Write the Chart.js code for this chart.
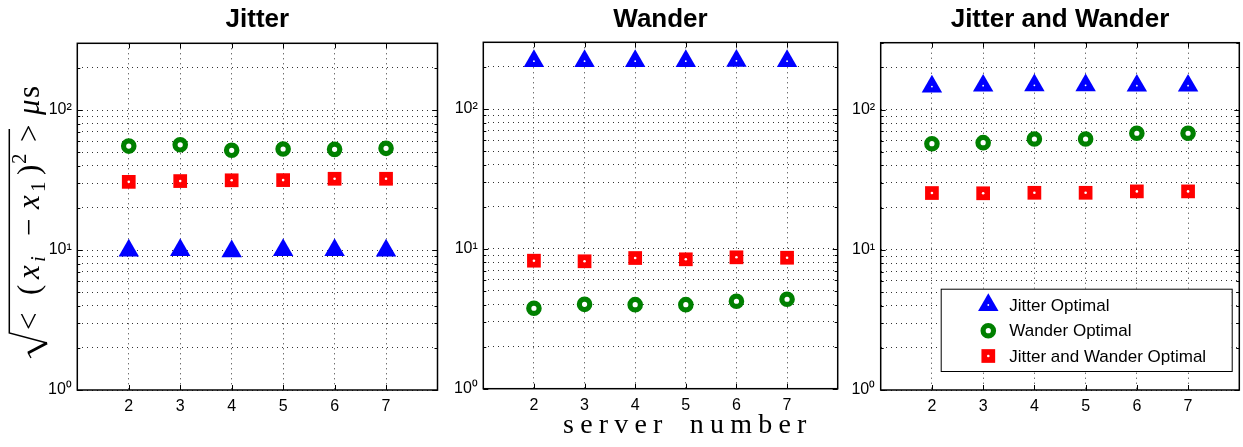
<!DOCTYPE html>
<html>
<head>
<meta charset="utf-8">
<title>Server offsets</title>
<script src="https://cdn.jsdelivr.net/npm/chart.js@4.4.1/dist/chart.umd.min.js"></script>
<style>
  html, body { margin: 0; padding: 0; background: #fff; }
  #figure { position: relative; width: 1243px; height: 447px; overflow: hidden; background: #fff; }
  #figure canvas { position: absolute; top: 0; }
</style>
</head>
<body>
<div id="figure">
  <canvas id="panelJitter" width="440" height="447" style="left:0px"></canvas>
  <canvas id="panelWander" width="400" height="447" style="left:440px"></canvas>
  <canvas id="panelBoth" width="403" height="447" style="left:840px"></canvas>
</div>
<script>
// ---- data ----
const serverNumbers = [2, 3, 4, 5, 6, 7];
const panelTitles = ['Jitter', 'Wander', 'Jitter and Wander'];
const seriesNames = ['Jitter Optimal', 'Wander Optimal', 'Jitter and Wander Optimal'];

// panel "Jitter"
const jitterJitterOptimal = [9.9, 10.0, 9.8, 10.0, 10.0, 9.9];
const jitterWanderOptimal = [55.3, 56.5, 51.6, 52.7, 52.4, 53.3];
const jitterBothOptimal   = [30.7, 31.1, 31.5, 31.6, 32.3, 32.3];
// panel "Wander"
const wanderJitterOptimal = [220, 220, 220, 220, 221, 220];
const wanderWanderOptimal = [3.76, 4.01, 3.99, 3.99, 4.22, 4.36];
const wanderBothOptimal   = [8.23, 8.15, 8.60, 8.42, 8.70, 8.64];
// panel "Jitter and Wander"
const bothJitterOptimal = [146, 148, 149, 149, 148, 148];
const bothWanderOptimal = [57.1, 58.1, 61.7, 61.7, 67.8, 67.8];
const bothBothOptimal   = [25.4, 25.3, 25.5, 25.5, 26.1, 26.1];

// axes
const xRange = [1, 8];
const yRange = [1, 300];
const xTickValues = [2, 3, 4, 5, 6, 7];
const yTickValues = [1, 2, 3, 4, 5, 6, 7, 8, 9, 10, 20, 30, 40, 50, 60, 70, 80, 90, 100, 200, 300];
const yTickLabels = { 1: '10\u2070', 10: '10\u00B9', 100: '10\u00B2' };
const xAxisTitle = 'server number';

// ---- styling ----
Chart.defaults.font.family = "'Liberation Sans', Arial, Helvetica, sans-serif";
Chart.defaults.color = '#000';

const gridColor = 'rgba(0,0,0,0.8)';
const seriesStyles = [
  { pointStyle: 'triangle', radius: 11.8, fill: '#0000ff', stroke: '#0000ff', borderWidth: 0, dot: 1.8 },
  { pointStyle: 'circle',   radius: 5.2,  fill: '#ffffff', stroke: '#008000', borderWidth: 5.2, dot: 0 },
  { pointStyle: 'rect',     radius: 9.7,  fill: '#ff0000', stroke: '#ff0000', borderWidth: 0, dot: 2.6 }
];

function makeDatasets(seriesValues, triangleDot) {
  return seriesValues.map((values, s) => {
    const st = seriesStyles[s];
    return {
      label: seriesNames[s],
      data: serverNumbers.map((x, i) => ({ x: x, y: values[i] })),
      showLine: false,
      pointStyle: st.pointStyle,
      pointRadius: st.radius,
      pointBackgroundColor: st.fill,
      pointBorderColor: st.stroke,
      pointBorderWidth: st.borderWidth,
      centerDot: (s === 0 && !triangleDot) ? 0 : st.dot,
      clip: false
    };
  });
}

// white dot in the middle of each marker
const centerDotPlugin = {
  id: 'centerDot',
  afterDatasetsDraw(chart) {
    const ctx = chart.ctx;
    ctx.save();
    ctx.fillStyle = '#ffffff';
    chart.data.datasets.forEach((ds, i) => {
      if (!ds.centerDot) return;
      chart.getDatasetMeta(i).data.forEach(pt => {
        ctx.beginPath();
        ctx.arc(pt.x, pt.y, ds.centerDot / 2, 0, Math.PI * 2);
        ctx.fill();
      });
    });
    ctx.restore();
  }
};

// axes box with inward ticks on all four sides
const axesFramePlugin = {
  id: 'axesFrame',
  afterDatasetsDraw(chart) {
    const { ctx, chartArea: a, scales } = chart;
    ctx.save();
    ctx.strokeStyle = '#000';
    ctx.lineWidth = 1;
    ctx.beginPath();
    xTickValues.forEach(v => {
      const px = Math.round(scales.x.getPixelForValue(v)) + 0.5;
      ctx.moveTo(px, a.bottom); ctx.lineTo(px, a.bottom - 5);
      ctx.moveTo(px, a.top); ctx.lineTo(px, a.top + 5);
    });
    yTickValues.forEach(v => {
      const py = Math.round(scales.y.getPixelForValue(v)) + 0.5;
      const len = yTickLabels[v] ? 5 : 3;
      ctx.moveTo(a.left, py); ctx.lineTo(a.left + len, py);
      ctx.moveTo(a.right, py); ctx.lineTo(a.right - len, py);
    });
    ctx.stroke();
    ctx.lineWidth = 1.5;
    ctx.strokeRect(a.left, a.top, a.right - a.left, a.bottom - a.top);
    ctx.restore();
  }
};

// rotated y-axis title: sqrt(<(x_i - x_1)^2>) mu s
const yTitlePlugin = {
  id: 'yTitle',
  afterDraw(chart) {
    const ctx = chart.ctx;
    const serif = "'Liberation Serif', 'Times New Roman', serif";
    ctx.save();
    ctx.translate(39, 447);
    ctx.rotate(-Math.PI / 2);
    ctx.fillStyle = '#000';
    ctx.strokeStyle = '#000';
    ctx.textBaseline = 'alphabetic';
    ctx.textAlign = 'left';
    const big = '31px ' + serif, bigIt = 'italic 31px ' + serif;
    const small = '21px ' + serif, smallIt = 'italic 21px ' + serif;
    const pieces = [
      { t: '<', f: big, u: 117, v: 0 },
      { t: '(', f: big, u: 152, v: 0 },
      { t: 'x', f: bigIt, u: 168, v: 0 },
      { t: 'i', f: smallIt, u: 185, v: 6 },
      { t: '\u2212', f: big, u: 211, v: 0 },
      { t: 'x', f: bigIt, u: 238, v: 0 },
      { t: '1', f: small, u: 255, v: 6 },
      { t: ')', f: big, u: 272, v: 0 },
      { t: '2', f: small, u: 283, v: -13 },
      { t: '>', f: big, u: 305, v: 0 },
      { t: '\u03BC', f: bigIt, u: 332, v: 0 },
      { t: 's', f: big, u: 349, v: 0 }
    ];
    pieces.forEach(p => { ctx.font = p.f; ctx.fillText(p.t, p.u, p.v); });
    // radical sign and vinculum
    const h = -29.7;
    ctx.lineWidth = 1.5;
    ctx.beginPath();
    ctx.moveTo(318, h); ctx.lineTo(114, h);
    ctx.lineTo(104, 8);
    ctx.stroke();
    ctx.lineWidth = 2.8;
    ctx.beginPath();
    ctx.moveTo(104, 8); ctx.lineTo(94, -11);
    ctx.stroke();
    ctx.lineWidth = 1.3;
    ctx.beginPath();
    ctx.moveTo(94.5, -11); ctx.lineTo(89, -8);
    ctx.stroke();
    ctx.restore();
  }
};

// x-axis title centred under the middle panel
const xTitlePlugin = {
  id: 'xTitle',
  afterDraw(chart) {
    const ctx = chart.ctx;
    const a = chart.chartArea;
    ctx.save();
    ctx.fillStyle = '#000';
    ctx.font = "28px 'Liberation Serif', 'Times New Roman', serif";
    const spacing = 6.2;
    if ('letterSpacing' in ctx) ctx.letterSpacing = spacing + 'px';
    if ('wordSpacing' in ctx) ctx.wordSpacing = '8px';
    ctx.textAlign = 'center';
    ctx.textBaseline = 'alphabetic';
    ctx.fillText(xAxisTitle, a.left + 201.4 + spacing / 2, 432.7);
    ctx.restore();
  }
};

// legend box inside the last panel
const insideLegendPlugin = {
  id: 'insideLegend',
  afterDraw(chart) {
    const ctx = chart.ctx;
    const a = chart.chartArea;
    const w = 291, h = 82.3;
    const left = a.right - 7.6 - w;
    const top = a.bottom - 19 - h;
    ctx.save();
    ctx.fillStyle = '#fff';
    ctx.fillRect(left, top, w, h);
    ctx.strokeStyle = '#000';
    ctx.lineWidth = 1;
    ctx.strokeRect(left + 0.5, top + 0.5, w, h);
    const rowY = [16.3, 42, 67.3];
    ctx.font = "17px 'Liberation Sans', Arial, sans-serif";
    ctx.textBaseline = 'middle';
    ctx.textAlign = 'left';
    chart.data.datasets.forEach((ds, i) => {
      const st = seriesStyles[i];
      const cx = left + 47.6, cy = top + rowY[i];
      ctx.fillStyle = st.fill;
      ctx.strokeStyle = st.stroke;
      ctx.lineWidth = st.borderWidth;
      Chart.helpers.drawPoint(ctx, { pointStyle: st.pointStyle, radius: st.radius, borderWidth: st.borderWidth, rotation: 0 }, cx, cy);
      if (st.dot) {
        ctx.fillStyle = '#fff';
        ctx.beginPath(); ctx.arc(cx, cy, st.dot / 2, 0, Math.PI * 2); ctx.fill();
      }
      ctx.fillStyle = '#000';
      ctx.fillText(ds.label, left + 68.6, cy + 1);
    });
    ctx.restore();
  }
};

function panelOptions(cfg) {
  return {
    responsive: false,
    animation: false,
    events: [],
    layout: { autoPadding: false, padding: { left: 0, right: cfg.padRight, top: 0, bottom: 0 } },
    plugins: {
      legend: { display: false },
      tooltip: { enabled: false },
      title: {
        display: true, text: cfg.title, color: '#000', fullSize: false,
        font: { size: 26, weight: 'bold' },
        padding: { top: 4, bottom: cfg.titleGap }
      }
    },
    scales: {
      x: {
        type: 'linear', min: xRange[0], max: xRange[1],
        afterBuildTicks: s => { s.ticks = xTickValues.map(v => ({ value: v })); },
        afterFit: s => { s.height = cfg.xAxisHeight; },
        ticks: { color: '#000', font: { size: 16 }, padding: 7, autoSkip: false, maxRotation: 0, callback: v => String(v) },
        grid: { color: gridColor, lineWidth: 1, drawTicks: false },
        border: { display: false, dash: [1, 4] }
      },
      y: {
        type: 'logarithmic', min: yRange[0], max: yRange[1],
        afterBuildTicks: s => { s.ticks = yTickValues.map(v => ({ value: v })); },
        afterFit: s => { s.width = cfg.yAxisWidth; },
        ticks: { color: '#000', font: { size: 16 }, padding: 5.5, autoSkip: false, callback: v => yTickLabels[v] || '' },
        grid: { color: gridColor, lineWidth: 1, drawTicks: false },
        border: { display: false, dash: [1, 4] }
      }
    }
  };
}

new Chart(document.getElementById('panelJitter'), {
  type: 'scatter',
  data: { datasets: makeDatasets([jitterJitterOptimal, jitterWanderOptimal, jitterBothOptimal], false) },
  options: panelOptions({ title: panelTitles[0], padRight: 2.5, yAxisWidth: 77.3, titleGap: 8.1, xAxisHeight: 57 }),
  plugins: [axesFramePlugin, centerDotPlugin, yTitlePlugin]
});

new Chart(document.getElementById('panelWander'), {
  type: 'scatter',
  data: { datasets: makeDatasets([wanderJitterOptimal, wanderWanderOptimal, wanderBothOptimal], true) },
  options: panelOptions({ title: panelTitles[1], padRight: 2.3, yAxisWidth: 43.3, titleGap: 7.1, xAxisHeight: 58.3 }),
  plugins: [axesFramePlugin, centerDotPlugin, xTitlePlugin]
});

new Chart(document.getElementById('panelBoth'), {
  type: 'scatter',
  data: { datasets: makeDatasets([bothJitterOptimal, bothWanderOptimal, bothBothOptimal], true) },
  options: panelOptions({ title: panelTitles[2], padRight: 3.7, yAxisWidth: 40.7, titleGap: 7.5, xAxisHeight: 57 }),
  plugins: [axesFramePlugin, centerDotPlugin, insideLegendPlugin]
});
</script>
</body>
</html>
